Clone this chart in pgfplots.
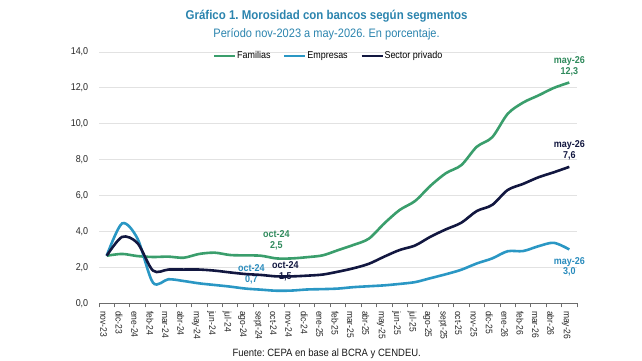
\documentclass[border=0pt]{standalone}
\usepackage{fontspec}
\setmainfont{Liberation Sans}[FakeStretch=0.9]
\usepackage{pgfplots}
\pgfplotsset{compat=1.18}
\usepackage{pgfplotstable}
\frenchspacing

\definecolor{famgreen}{HTML}{3A9E6C}
\definecolor{famtext}{HTML}{2F8A5C}
\definecolor{empblue}{HTML}{2A97C4}
\definecolor{emptext}{HTML}{2A8CBD}
\definecolor{privnavy}{HTML}{121740}
\definecolor{titleblue}{HTML}{2B84AE}
\definecolor{tickgray}{HTML}{262626}
\definecolor{gridgray}{HTML}{E2E2E2}

% Morosidad (%) por segmento, nov-2023 a may-2026 (mes 0 = nov-23)
\pgfplotstableread{
mes fam   emp   priv
0   2.65  2.65  2.65
1   2.75  4.45  3.70
2   2.63  3.60  3.35
3   2.58  1.15  1.82
4   2.60  1.34  1.88
5   2.54  1.24  1.88
6   2.75  1.11  1.88
7   2.82  1.02  1.82
8   2.69  0.93  1.72
9   2.67  0.82  1.63
10  2.65  0.76  1.58
11  2.50  0.70  1.50
12  2.50  0.71  1.50
13  2.57  0.77  1.54
14  2.67  0.79  1.60
15  2.96  0.82  1.76
16  3.25  0.90  1.95
17  3.60  0.95  2.20
18  4.45  1.00  2.60
19  5.20  1.08  2.97
20  5.70  1.18  3.22
21  6.55  1.40  3.71
22  7.25  1.62  4.12
23  7.70  1.87  4.49
24  8.72  2.22  5.14
25  9.25  2.50  5.48
26  10.55 2.90  6.31
27  11.18 2.91  6.65
28  11.58 3.18  7.02
29  12.00 3.37  7.30
30  12.30 3.00  7.60
}\morosidad

\begin{document}
\begin{tikzpicture}
\path[use as bounding box] (0bp,0bp) rectangle (642bp,361bp);
\begin{axis}[
  at={(99bp,57.7bp)}, anchor=south west,
  scale only axis, width=478bp, height=251.3bp,
  xmin=-0.5, xmax=30.5, ymin=0, ymax=14,
  axis lines=left,
  axis line style={-},
  x axis line style={draw=gray!85!black, line width=0.8bp},
  y axis line style={draw=none},
  xtick={0,...,30},
  xticklabels={nov-23,dic-23,ene-24,feb-24,mar-24,abr-24,may-24,jun-24,jul-24,ago-24,sept-24,oct-24,nov-24,dic-24,ene-25,feb-25,mar-25,abr-25,may-25,jun-25,jul-25,ago-25,sept-25,oct-25,nov-25,dic-25,ene-26,feb-26,mar-26,abr-26,may-26},
  major x tick style={draw=none},
  minor xtick={-0.5,0.5,...,30.5},
  minor x tick style={draw=gray!85!black, line width=0.8bp},
  minor tick length=4bp,
  tick align=outside,
  xticklabel style={rotate=-90, anchor=west, font=\fontsize{9.5}{10}\selectfont, text=tickgray, yshift=-3bp},
  ytick={0,2,...,14},
  ytick style={draw=none},
  yticklabel style={font=\fontsize{10}{11}\selectfont, text=tickgray, xshift=-3bp},
  /pgf/number format/.cd, fixed, fixed zerofill, precision=1, use comma, assume math mode=true,
  /pgfplots/.cd,
  ymajorgrids,
  grid style={draw=gridgray, line width=0.8bp},
  legend style={at={(0.479,0.984)}, anchor=center, draw=none, fill=none,
    legend columns=3, font=\fontsize{10}{11}\selectfont,
    nodes={inner sep=0.6bp},
    /tikz/every odd column/.append style={column sep=0bp},
    /tikz/every even column/.append style={column sep=12bp}},
  legend image code/.code={\draw[#1, line width=2.6bp] (0bp,0bp) -- (21bp,0bp);},
  every axis plot/.append style={line width=2.6bp, smooth},
  clip=false,
]
% value labels
\node[align=center, font=\bfseries\fontsize{10}{10.7}\selectfont, text=famtext, yshift=16bp] at (axis cs:30,12.3) {may-26\\12,3};
\node[align=center, font=\bfseries\fontsize{10}{10.7}\selectfont, text=privnavy, yshift=16.7bp] at (axis cs:30,7.6) {may-26\\7,6};
\node[align=center, font=\bfseries\fontsize{10}{10.7}\selectfont, text=emptext, yshift=-17.2bp] at (axis cs:30,3.0) {may-26\\3,0};
\node[align=center, font=\bfseries\fontsize{10}{10.7}\selectfont, text=famtext, yshift=18bp] at (axis cs:11,2.5) {oct-24\\2,5};
\node[align=center, font=\bfseries\fontsize{10}{10.7}\selectfont, text=privnavy, xshift=9bp, yshift=5bp] at (axis cs:11,1.5) {oct-24\\1,5};
\node[align=center, font=\bfseries\fontsize{10}{10.7}\selectfont, text=emptext, xshift=-25bp, yshift=16.5bp] at (axis cs:11,0.7) {oct-24\\0,7};

\addplot[famgreen] table[x=mes, y=fam] {\morosidad};
\addlegendentry{Familias}
\addplot[empblue] table[x=mes, y=emp] {\morosidad};
\addlegendentry{Empresas}
\addplot[privnavy] table[x=mes, y=priv] {\morosidad};
\addlegendentry{Sector privado}
\end{axis}

\node[font=\bfseries\fontsize{12.8}{14}\selectfont, text=titleblue] at (326.6bp,345.3bp) {Gráfico 1. Morosidad con bancos según segmentos};
\node[font=\fontsize{12.3}{14}\selectfont, text=titleblue] at (326.6bp,327bp) {Período nov-2023 a may-2026. En porcentaje.};
\node[font=\fontsize{10.6}{12}\selectfont, text=black!90] at (326.7bp,7.7bp) {Fuente: CEPA en base al BCRA y CENDEU.};
\end{tikzpicture}
\end{document}
